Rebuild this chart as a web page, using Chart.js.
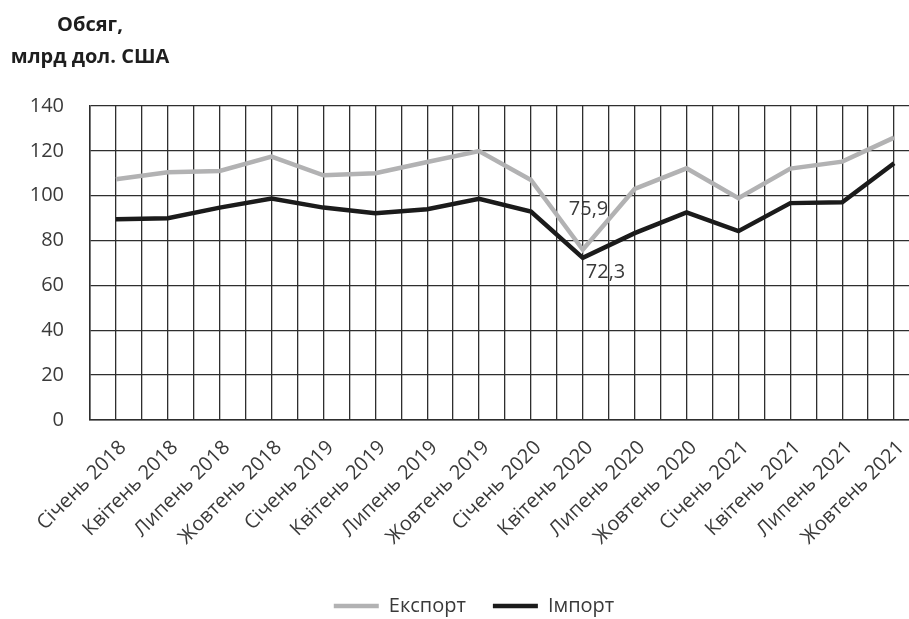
<!DOCTYPE html>
<html>
<head>
<meta charset="utf-8">
<script src="https://cdn.jsdelivr.net/npm/chart.js@4.4.1/dist/chart.umd.min.js"></script>
<style>
    html, body { margin: 0; padding: 0; background: #fff; overflow: hidden; }
    #wrap { position: relative; width: 977px; height: 619px; }
    #axisTitle {
        position: absolute; left: 0; top: 8px; width: 180px;
        text-align: center; font: bold 20px "Open Sans", sans-serif;
        line-height: 32px; color: #1e1e1e;
    }
</style>
</head>
<body>
<div id="wrap">
    <div id="axisTitle">Обсяг,<br>млрд дол. США</div>
    <canvas id="myChart" width="977" height="619"></canvas>
</div>
<script>
const categories = [
    'Січень 2018', 'Квітень 2018', 'Липень 2018', 'Жовтень 2018',
    'Січень 2019', 'Квітень 2019', 'Липень 2019', 'Жовтень 2019',
    'Січень 2020', 'Квітень 2020', 'Липень 2020', 'Жовтень 2020',
    'Січень 2021', 'Квітень 2021', 'Липень 2021', 'Жовтень 2021'
];
const exportValues = [107.3, 110.5, 111.0, 117.4, 109.1, 110.0, 115.0, 119.9,
                      107.0, 75.9, 103.0, 112.2, 98.9, 112.1, 115.2, 125.9];
const importValues = [89.5, 90.0, 94.7, 98.7, 94.7, 92.2, 94.0, 98.6,
                      92.9, 72.3, 83.3, 92.6, 84.2, 96.7, 97.1, 114.5];
const yTicks = [0, 20, 40, 60, 80, 100, 120, 140];
const labelledIndex = 9; // Квітень 2020 gets value labels

const FONT = '"Open Sans", sans-serif';
const TEXT = '#3a3a3a';
const GRID = '#2e2e2e';

// value labels for the dip in April 2020
const pointLabels = {
    id: 'pointLabels',
    afterDatasetsDraw(chart) {
        const ctx = chart.ctx;
        const offsets = [{dx: -14, dy: -40}, {dx: 3, dy: 14}];
        ctx.save();
        ctx.font = '20px ' + FONT;
        ctx.fillStyle = TEXT;
        ctx.textAlign = 'left';
        ctx.textBaseline = 'middle';
        chart.data.datasets.forEach((ds, i) => {
            const pt = chart.getDatasetMeta(i).data[labelledIndex];
            const txt = ds.data[labelledIndex].toFixed(1).replace('.', ',');
            ctx.fillText(txt, pt.x + offsets[i].dx, pt.y + offsets[i].dy);
        });
        ctx.restore();
    }
};

document.addEventListener('DOMContentLoaded', () => {
    const ctx = document.getElementById('myChart').getContext('2d');
    new Chart(ctx, {
        type: 'line',
        data: {
            labels: categories,
            datasets: [
                {
                    label: 'Експорт',
                    data: exportValues,
                    borderColor: '#b2b2b3',
                    backgroundColor: '#b2b2b3',
                    borderWidth: 4.5,
                    pointRadius: 0,
                    tension: 0
                },
                {
                    label: 'Імпорт',
                    data: importValues,
                    borderColor: '#1b1b1b',
                    backgroundColor: '#1b1b1b',
                    borderWidth: 4.5,
                    pointRadius: 0,
                    tension: 0
                }
            ]
        },
        options: {
            responsive: false,
            animation: false,
            layout: { padding: { top: 106, right: 57, left: 28, bottom: -7 } },
            scales: {
                x: {
                    offset: true,
                    afterFit: (scale) => { scale.height = 149; },
                    grid: { color: GRID, lineWidth: 1.3, offset: false, drawTicks: false },
                    border: { color: GRID, width: 1.5 },
                    ticks: {
                        color: TEXT,
                        font: { family: FONT, size: 20 },
                        minRotation: 45, maxRotation: 45,
                        padding: 16,
                        labelOffset: 7,
                        autoSkip: false
                    }
                },
                x2: {
                    type: 'category',
                    labels: categories,
                    position: 'bottom',
                    offset: true,
                    grid: { color: GRID, lineWidth: 1.3, offset: true, drawTicks: false },
                    border: { display: false },
                    ticks: { display: false }
                },
                y: {
                    min: 0,
                    max: 140,
                    afterBuildTicks: (scale) => { scale.ticks = yTicks.map(v => ({ value: v })); },
                    afterFit: (scale) => { scale.width = 62; },
                    grid: { color: GRID, lineWidth: 1.3, drawTicks: false },
                    border: { color: GRID, width: 1.5 },
                    ticks: {
                        color: TEXT,
                        font: { family: FONT, size: 20 },
                        padding: 26
                    }
                }
            },
            plugins: {
                tooltip: { enabled: false },
                legend: {
                    position: 'bottom',
                    labels: {
                        color: TEXT,
                        font: { family: FONT, size: 20 },
                        usePointStyle: true,
                        pointStyle: 'line',
                        pointStyleWidth: 45,
                        padding: 27
                    }
                }
            }
        },
        plugins: [pointLabels]
    });
});
</script>
</body>
</html>
